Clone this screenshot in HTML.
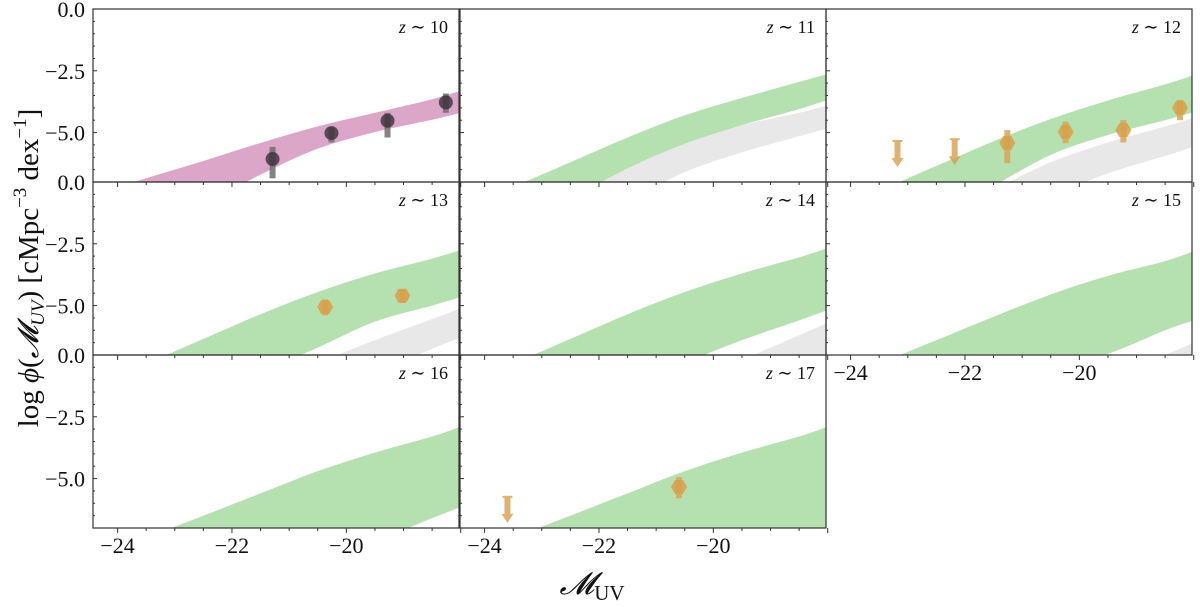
<!DOCTYPE html>
<html><head><meta charset="utf-8">
<style>
html,body{margin:0;padding:0;background:#fff;width:1200px;height:607px;overflow:hidden;}
svg{display:block;font-family:"Liberation Serif","DejaVu Serif",serif;}
</style></head>
<body>
<svg id="chart" width="1200" height="607" viewBox="0 0 1200 607" xmlns="http://www.w3.org/2000/svg">
<text x="0" y="0" transform="translate(38,268) rotate(-90)" text-anchor="middle" font-size="29" fill="#111">log <tspan font-style="italic">ϕ</tspan>(<tspan font-style="italic">𝓜</tspan><tspan font-size="19" dy="6" font-style="italic">UV</tspan><tspan dy="-6">) [cMpc</tspan><tspan font-size="19" dy="-12">−3</tspan><tspan dy="12"> dex</tspan><tspan font-size="19" dy="-12">−1</tspan><tspan dy="12">]</tspan></text>
<text x="592" y="594" text-anchor="middle" font-size="31" fill="#111"><tspan font-style="italic">𝓜</tspan><tspan font-size="21" dy="6">UV</tspan></text>
</svg>
<script>
const grid = [-24.5,-23.5,-22.5,-21.5,-20.5,-19.5,-18.5,-18.0];
const redshiftLabels = ["10","11","12","13","14","15","16","17"];
const magHi10 = [-7.6,-6.85,-6.15,-5.42,-4.75,-4.2,-3.65,-3.3];
const magLo10 = [-10,-9,-7.9,-6.7,-5.65,-4.98,-4.48,-4.2];
const grnHi11 = [-8.2,-7.2,-6.2,-5.2,-4.3,-3.6,-2.95,-2.63];
const grnLo11 = [-10,-9,-7.7,-6.45,-5.45,-4.7,-4.05,-3.68];
const gryHi11 = [-9.5,-8.4,-7.15,-6.2,-5.35,-4.7,-4.2,-3.9];
const gryLo11 = [-11,-10,-9,-7.8,-6.6,-5.8,-5.15,-4.82];
const grnHi12 = [-8.3,-7.35,-6.35,-5.35,-4.45,-3.7,-3.05,-2.67];
const grnLo12 = [-10.5,-9.5,-8.3,-7.15,-5.9,-5.1,-4.5,-4.17];
const gryHi12 = [-11,-9.7,-8.4,-7.3,-6.2,-5.4,-4.75,-4.41];
const gryLo12 = [-12,-11,-10,-8.8,-7.6,-6.65,-5.95,-5.57];
const grnHi13 = [-8.3,-7.35,-6.35,-5.35,-4.45,-3.7,-3.1,-2.75];
const grnLo13 = [-11,-10,-8.8,-7.7,-6.7,-5.65,-5.0,-4.66];
const gryHi13 = [-12,-11,-9.8,-8.5,-7.35,-6.4,-5.55,-5.1];
const gryLo13 = [-13,-12,-11,-10,-8.7,-7.7,-6.75,-6.28];
const grnHi14 = [-8.3,-7.35,-6.35,-5.35,-4.45,-3.7,-3.05,-2.67];
const grnLo14 = [-11,-10,-9,-8.1,-7.3,-6.4,-5.6,-5.18];
const gryHi14 = [-13,-12,-10.5,-9.2,-8.2,-7.2,-6.2,-5.7];
const gryLo14 = [-14,-13,-12,-11,-10,-9,-8,-7.5];
const grnHi15 = [-8.3,-7.35,-6.4,-5.45,-4.55,-3.8,-3.2,-2.8];
const grnLo15 = [-11,-10,-9,-8.2,-7.5,-6.95,-6.0,-5.6];
const gryHi15 = [-14,-13,-12,-10,-9,-8,-7.0,-6.5];
const gryLo15 = [-15,-14,-13,-12,-11,-10,-9,-8.5];
const grnHi16 = [-8.4,-7.4,-6.5,-5.6,-4.7,-3.95,-3.3,-2.9];
const grnLo16 = [-11,-10,-9.2,-8.6,-8.0,-7.5,-6.6,-6.15];
const grnHi17 = [-8.4,-7.4,-6.5,-5.6,-4.7,-3.95,-3.3,-2.9];
const grnLo17 = [-12,-11,-10.5,-10,-9.2,-8.6,-7.8,-7.3];
const p10M = [-21.29,-20.26,-19.28,-18.26];
const p10Y = [-6.07,-5.02,-4.52,-3.78];
const p10Up = [-5.58,-4.76,-4.2,-3.42];
const p10Dn = [-6.85,-5.4,-5.2,-4.2];
const p12M = [-21.26,-20.24,-19.23,-18.24];
const p12Y = [-5.42,-4.97,-4.9,-4.0];
const p12Up = [-4.9,-4.56,-4.5,-3.68];
const p12Dn = [-6.24,-5.43,-5.4,-4.5];
const p13M = [-20.37,-19.02];
const p13Y = [-5.06,-4.6];
const p13Up = [-4.75,-4.35];
const p13Dn = [-5.4,-4.9];
const p17M = [-20.6];
const p17Y = [-5.34];
const p17Up = [-4.94];
const p17Dn = [-5.8];
const lim12M = [-23.18,-22.18];
const lim12Y = [-5.3,-5.23];
const lim17M = [-23.6];
const lim17Y = [-5.7];
const xTicks = [-24,-22,-20];
const xTickLabels = ["−24","−22","−20"];
const yTicks = [0,-2.5,-5];
const yTickLabels = ["0.0","−2.5","−5.0"];

const NS="http://www.w3.org/2000/svg";
const svg=document.getElementById('chart');
const colX=[93,460,826], colW=366, rowY=[9,182,355], rowH=173;
const XMIN=-24.43, XMAX=-18.03, YMIN=-7, YMAX=0;
function mk(t,a,p){const e=document.createElementNS(NS,t);for(const k in a)e.setAttribute(k,a[k]);(p||svg).appendChild(e);return e;}
// smooth curve through points (Catmull-Rom -> cubic bezier)
function smooth(P,start){
  let d=start?('M'+P[0][0]+','+P[0][1]):('L'+P[0][0]+','+P[0][1]);
  for(let i=0;i<P.length-1;i++){
    const p0=P[Math.max(i-1,0)],p1=P[i],p2=P[i+1],p3=P[Math.min(i+2,P.length-1)];
    const c1=[p1[0]+(p2[0]-p0[0])/6,p1[1]+(p2[1]-p0[1])/6];
    const c2=[p2[0]-(p3[0]-p1[0])/6,p2[1]-(p3[1]-p1[1])/6];
    d+=' C'+c1[0]+','+c1[1]+' '+c2[0]+','+c2[1]+' '+p2[0]+','+p2[1];
  }
  return d;
}

const panels=[
 {c:0,r:0,bands:[[magHi10,magLo10,'#dba6c8']],pts:[p10M,p10Y,p10Up,p10Dn,'dark'],xl:false},
 {c:1,r:0,bands:[[gryHi11,gryLo11,'#e8e8e8'],[grnHi11,grnLo11,'#b5e1b0']],xl:false},
 {c:2,r:0,bands:[[gryHi12,gryLo12,'#e8e8e8'],[grnHi12,grnLo12,'#b5e1b0']],pts:[p12M,p12Y,p12Up,p12Dn,'orange'],lim:[lim12M,lim12Y],xl:false},
 {c:0,r:1,bands:[[gryHi13,gryLo13,'#e8e8e8'],[grnHi13,grnLo13,'#b5e1b0']],pts:[p13M,p13Y,p13Up,p13Dn,'orange'],xl:false},
 {c:1,r:1,bands:[[gryHi14,gryLo14,'#e8e8e8'],[grnHi14,grnLo14,'#b5e1b0']],xl:false},
 {c:2,r:1,bands:[[gryHi15,gryLo15,'#e8e8e8'],[grnHi15,grnLo15,'#b5e1b0']],xl:true},
 {c:0,r:2,bands:[[grnHi16,grnLo16,'#b5e1b0']],xl:true},
 {c:1,r:2,bands:[[grnHi17,grnLo17,'#b5e1b0']],pts:[p17M,p17Y,p17Up,p17Dn,'orange'],lim:[lim17M,lim17Y],xl:true}
];

panels.forEach((P,i)=>{
  const x0=colX[P.c], y0=rowY[P.r];
  const sx=m=>x0+(m-XMIN)/(XMAX-XMIN)*colW;
  const sy=v=>y0+(YMAX-v)/(YMAX-YMIN)*rowH;
  const g=mk('g',{});
  
  
  const cp=mk('clipPath',{id:'cp'+i},g);
  mk('rect',{x:x0,y:y0,width:colW,height:rowH},cp);
  const inner=mk('g',{'clip-path':'url(#cp'+i+')'},g);
  P.bands.forEach(b=>{
    const top=grid.map((m,k)=>[sx(m),sy(b[0][k])]);
    const bot=grid.map((m,k)=>[sx(m),sy(b[1][k])]).reverse();
    const d=smooth(top,true)+' '+smooth(bot,false)+' Z';
    const pg=mk('path',{d:d,fill:b[2]},inner);
    
    
  });
  if(P.pts){
    const [M,Y,U,D,kind]=P.pts;
    const col=kind==='dark'?'#3b2f38':'#d8a04a';
    const ecol=kind==='dark'?'#6e6e6e':'#d9a555';
    M.forEach((m,k)=>{
      const eb=mk('rect',{x:sx(m)-3,y:sy(U[k]),width:6,height:sy(D[k])-sy(U[k]),fill:ecol,opacity:0.85},inner);
      
      
      let mark;
      if(kind==='dark'){
        mark=mk('circle',{cx:sx(m),cy:sy(Y[k]),r:7,fill:col,opacity:0.8},inner);
      }else{
        const cx=sx(m),cy=sy(Y[k]),r=8;
        const hp=[];for(let a=0;a<6;a++){const t=a*Math.PI/3;hp.push((cx+r*Math.cos(t))+','+(cy+r*Math.sin(t)));}
        mark=mk('polygon',{points:hp.join(' '),fill:col,opacity:0.85},inner);
      }
      
      
    });
  }
  if(P.lim){
    const [M,Y]=P.lim;
    M.forEach((m,k)=>{
      const cx=sx(m),ty=sy(Y[k]),by=ty+27;
      const ul=mk('g',{opacity:0.8},inner);
      
      
      mk('rect',{x:cx-5,y:ty,width:10,height:2,fill:'#d9a050'},ul);
      mk('rect',{x:cx-3,y:ty,width:6,height:by-ty-8,fill:'#d9a050'},ul);
      mk('polygon',{points:(cx-6)+','+(by-9)+' '+(cx+6)+','+(by-9)+' '+cx+','+by,fill:'#d9a050'},ul);
    });
  }
  const fr=mk('rect',{x:x0,y:y0,width:colW,height:rowH,fill:'none',stroke:'#333','stroke-width':1.2},g);
  
  
  for(let v=0;v>=-7;v-=0.5){
    const major=Math.abs(v%2.5)<1e-6;
    mk('line',{x1:x0,x2:x0+(major?4:2),y1:sy(v),y2:sy(v),stroke:'#333','stroke-width':1},g);
  }
  if(P.c===0){
    yTicks.forEach((v,k)=>{
      const t=mk('text',{x:x0-8,y:sy(v)+8,'text-anchor':'end','font-size':22,fill:'#111'},g);
      t.textContent=yTickLabels[k];
      
      
    });
  }
  for(let m=-24.5;m<=-18;m+=0.5){
    if(m<XMIN)continue;
    const major=Math.abs(m%2)<1e-6;
    mk('line',{x1:sx(m),x2:sx(m),y1:y0+rowH,y2:y0+rowH+(major?5:3),stroke:'#333','stroke-width':1},g);
  }
  if(P.xl){
    xTicks.forEach((m,k)=>{
      const t=mk('text',{x:sx(m),y:y0+rowH+25,'text-anchor':'middle','font-size':22,fill:'#111'},g);
      t.textContent=xTickLabels[k];
      
      
    });
  }
  const lab=mk('text',{x:x0+colW-11,y:y0+24,'text-anchor':'end','font-size':18,fill:'#111'},g);
  lab.innerHTML='<tspan font-style="italic">z</tspan> ∼ '+redshiftLabels[i];
  
  
});
</script>
</body></html>
